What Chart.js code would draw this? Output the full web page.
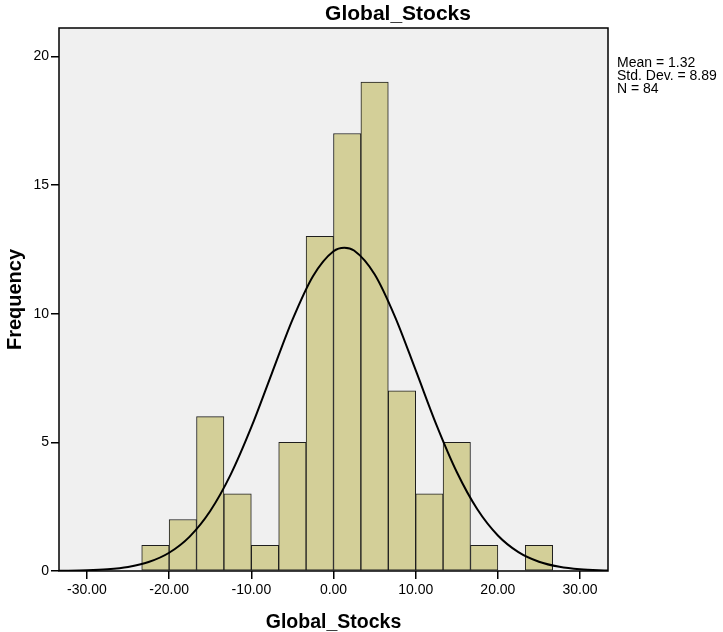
<!DOCTYPE html>
<html>
<head>
<meta charset="utf-8">
<script src="https://cdn.jsdelivr.net/npm/chart.js@4.4.1/dist/chart.umd.min.js"></script>
<style>
  html, body { margin: 0; padding: 0; background: #ffffff; }
  #grafico { display: block; }
</style>
</head>
<body>
<canvas id="grafico" width="723" height="632"></canvas>
<script>
// Histograma: centros de clase (ancho 10/3) y frecuencias
const centrosClase = [-21.667, -18.333, -15, -11.667, -8.333, -5, -1.667, 1.667, 5, 8.333, 11.667, 15, 18.333, 21.667, 25];
const frecuencias = [1, 2, 6, 3, 1, 5, 13, 17, 19, 7, 3, 5, 1, 0, 1];

// Curva normal ajustada, leída punto a punto
const curvaX = [-33.4, -30, -27.5, -25, -22.5, -20, -17.5, -15, -12.5, -10, -7.5, -5, -2.5, 0, 1.32, 2.5, 5, 7.5, 10, 12.5, 15, 17.5, 20, 22.5, 25, 27.5, 30, 33.4];
const curvaY = [0.006, 0.025, 0.066, 0.157, 0.347, 0.709, 1.337, 2.331, 3.753, 5.586, 7.681, 9.759, 11.457, 12.427, 12.565, 12.455, 11.533, 9.868, 7.802, 5.698, 3.846, 2.399, 1.382, 0.735, 0.362, 0.164, 0.069, 0.019];

// Textos
const titulo = 'Global_Stocks';
const tituloEjeX = 'Global_Stocks';
const tituloEjeY = 'Frequency';
const estadisticos = ['Mean = 1.32', 'Std. Dev. = 8.89', 'N = 84'];

const fuente = '"Liberation Sans", Arial, sans-serif';

const barras = centrosClase.map((x, i) => ({ x: x, y: frecuencias[i] }));
const curva = curvaX.map((x, i) => ({ x: x, y: curvaY[i] }));

// Fondo gris del área, marco negro y textos alrededor
const decoracion = {
    id: 'decoracion',
    beforeDatasetsDraw(chart) {
        const { ctx, chartArea: a } = chart;
        ctx.save();
        ctx.fillStyle = '#f0f0f0';
        ctx.fillRect(a.left, a.top, a.right - a.left, a.bottom - a.top);
        ctx.restore();
    },
    afterDraw(chart) {
        const { ctx, chartArea: a } = chart;
        ctx.save();
        ctx.strokeStyle = '#000000';
        ctx.lineWidth = 1.5;
        ctx.strokeRect(a.left, a.top, a.right - a.left, a.bottom - a.top);

        ctx.fillStyle = '#000000';
        ctx.textAlign = 'center';
        ctx.textBaseline = 'alphabetic';
        ctx.font = 'bold 21px ' + fuente;
        ctx.fillText(titulo, 398, 20);

        ctx.font = 'bold 19.5px ' + fuente;
        ctx.fillText(tituloEjeX, (a.left + a.right) / 2, 628);

        ctx.save();
        ctx.translate(21, (a.top + a.bottom) / 2);
        ctx.rotate(-Math.PI / 2);
        ctx.font = 'bold 20px ' + fuente;
        ctx.fillText(tituloEjeY, 0, 0);
        ctx.restore();

        ctx.textAlign = 'left';
        ctx.font = '14px ' + fuente;
        estadisticos.forEach((t, i) => ctx.fillText(t, 617, 67 + i * 13));
        ctx.restore();
    }
};

new Chart(document.getElementById('grafico'), {
    data: {
        datasets: [
            {
                type: 'line',
                data: curva,
                borderColor: '#000000',
                borderWidth: 2,
                pointRadius: 0,
                cubicInterpolationMode: 'monotone',
                fill: false,
                order: 0
            },
            {
                type: 'bar',
                data: barras,
                backgroundColor: '#d3cf98',
                borderColor: '#1e1e1e',
                borderWidth: 1,
                borderSkipped: false,
                barPercentage: 1,
                categoryPercentage: 1,
                order: 1
            }
        ]
    },
    options: {
        responsive: false,
        animation: false,
        layout: { padding: { top: 28, right: 115, left: 0, bottom: 0 } },
        plugins: {
            legend: { display: false },
            tooltip: { enabled: false }
        },
        scales: {
            x: {
                type: 'linear',
                min: -33.4,
                max: 33.4,
                offset: false,
                afterFit(scale) { scale.height = 61; },
                border: { display: false },
                grid: { offset: false, drawOnChartArea: false, tickLength: 8, color: '#000000', lineWidth: 1.5 },
                ticks: {
                    stepSize: 10,
                    includeBounds: false,
                    maxRotation: 0,
                    padding: 3,
                    color: '#000000',
                    font: { family: fuente, size: 14 },
                    callback: v => v.toFixed(2)
                }
            },
            y: {
                type: 'linear',
                min: 0,
                max: 21.1,
                afterFit(scale) { scale.width = 59; },
                border: { display: false },
                grid: { drawOnChartArea: false, tickLength: 8, color: '#000000', lineWidth: 1.5 },
                ticks: {
                    stepSize: 5,
                    includeBounds: false,
                    padding: 2,
                    color: '#000000',
                    font: { family: fuente, size: 14 }
                }
            }
        }
    },
    plugins: [decoracion]
});
</script>
</body>
</html>
